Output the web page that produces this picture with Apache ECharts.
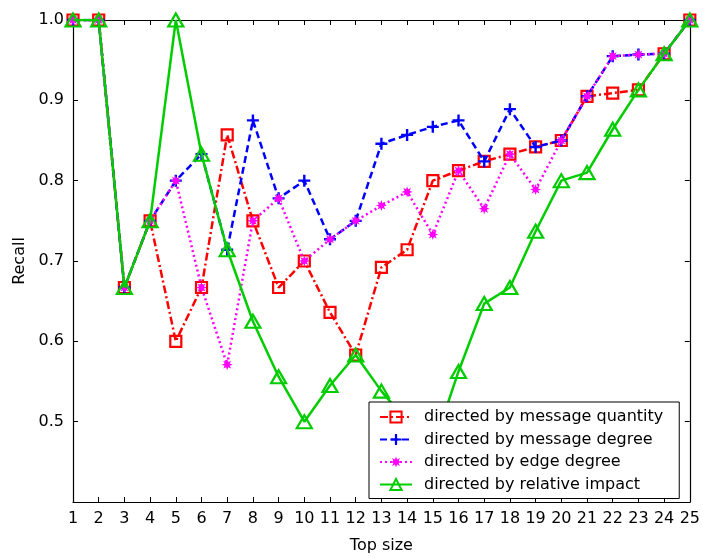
<!DOCTYPE html>
<html>
<head>
<meta charset="utf-8">
<script src="https://cdn.jsdelivr.net/npm/echarts@6/dist/echarts.min.js"></script>
<style>
html,body{margin:0;padding:0;background:#fff;}
#chart{width:703px;height:559px;}
</style>
</head>
<body>
<div id="chart"></div>
<script>
var topSizes = [1,2,3,4,5,6,7,8,9,10,11,12,13,14,15,16,17,18,19,20,21,22,23,24,25];
var msgQuantity = [1.0,1.0,0.667,0.75,0.6,0.667,0.857,0.75,0.667,0.7,0.636,0.583,0.692,0.714,0.8,0.8125,0.824,0.833,0.842,0.85,0.905,0.909,0.913,0.958,1.0];
var msgDegree = [1.0,1.0,0.667,0.75,0.8,0.833,0.714,0.875,0.778,0.8,0.727,0.75,0.846,0.857,0.867,0.875,0.824,0.889,0.842,0.85,0.905,0.955,0.957,0.958,1.0];
var edgeDegree = [1.0,1.0,0.667,0.75,0.8,0.667,0.571,0.75,0.778,0.7,0.727,0.75,0.769,0.786,0.733,0.8125,0.765,0.833,0.789,0.85,0.905,0.955,0.957,0.958,1.0];
var relImpact = [1.0,1.0,0.667,0.75,1.0,0.833,0.714,0.625,0.556,0.5,0.545,0.583,0.538,0.5,0.467,0.5625,0.647,0.667,0.737,0.8,0.81,0.864,0.913,0.958,1.0];
var seriesNames = ['directed by message quantity','directed by message degree','directed by edge degree','directed by relative impact'];

function pairs(vals){ return topSizes.map(function(x,i){ return [x, vals[i]]; }); }

var FONT = 'DejaVu Sans';
var plusPath = 'path://M4,0H6V4H10V6H6V10H4V6H0V4H4Z';
var starPath = 'path://M20,10 L14.62,11.91 L17.07,17.07 L11.91,14.62 L10,20 L8.09,14.62 L2.93,17.07 L5.38,11.91 L0,10 L5.38,8.09 L2.93,2.93 L8.09,5.38 L10,0 L11.91,5.38 L17.07,2.93 L14.62,8.09 Z';

var chart = echarts.init(document.getElementById('chart'), null, {renderer:'canvas'});
var axisCommon = {
  axisLine:{show:true, onZero:false, lineStyle:{color:'#000', width:1.2}},
  axisTick:{show:true, inside:true, length:5, lineStyle:{color:'#000'}},
  splitLine:{show:false}
};
var option = {
  backgroundColor:'#fff',
  animation:false,
  grid:{left:73, right:12, top:20, bottom:52, containLabel:false},
  xAxis:[
    Object.assign({type:'value', min:1, max:25, interval:1, position:'bottom',
      name:'Top size', nameLocation:'middle', nameGap:36,
      nameTextStyle:{fontFamily:FONT, fontSize:16, color:'#000'},
      axisLabel:{fontFamily:FONT, fontSize:16, color:'#000', margin:9}}, axisCommon),
    Object.assign({type:'value', min:1, max:25, interval:1, position:'top',
      axisLabel:{show:false}}, axisCommon)
  ],
  yAxis:[
    Object.assign({type:'value', min:0.4, max:1.0, interval:0.1, position:'left',
      name:'Recall', nameLocation:'middle', nameGap:42,
      nameTextStyle:{fontFamily:FONT, fontSize:16, color:'#000'},
      axisLabel:{fontFamily:FONT, fontSize:16, color:'#000', margin:9, showMinLabel:false,
        formatter:function(v){ return v.toFixed(1); }}}, axisCommon),
    Object.assign({type:'value', min:0.4, max:1.0, interval:0.1, position:'right',
      axisLabel:{show:false}}, axisCommon)
  ],
  legend:{
    orient:'vertical', left:369, top:402, z:50, zlevel:1,
    padding:[7,16,6,10], itemGap:6.5, itemWidth:32, itemHeight:14,
    borderColor:'#000', borderWidth:1, backgroundColor:'#fff',
    textStyle:{fontFamily:FONT, fontSize:16, color:'#000', padding:[0,0,0,7]},
    data:seriesNames
  },
  series:[
    {name:seriesNames[0], type:'line', data:pairs(msgQuantity), symbol:'rect', symbolSize:11,
      lineStyle:{color:'#ff0000', width:2.5, type:[8,3,2,3]},
      itemStyle:{color:'rgba(255,255,255,0)', borderColor:'#ff0000', borderWidth:2.2}, z:2},
    {name:seriesNames[1], type:'line', data:pairs(msgDegree), symbol:plusPath, symbolSize:12,
      lineStyle:{color:'#0000ff', width:2.5, type:[7,4]},
      itemStyle:{color:'#0000ff', borderWidth:0}, z:3},
    {name:seriesNames[2], type:'line', data:pairs(edgeDegree), symbol:starPath, symbolSize:11,
      lineStyle:{color:'#ff00ff', width:2.5, type:[2,3]},
      itemStyle:{color:'#ff00ff', borderWidth:0}, z:4},
    {name:seriesNames[3], type:'line', data:pairs(relImpact), symbol:'triangle', symbolSize:[15,13],
      lineStyle:{color:'#00cc00', width:2.5, type:'solid'},
      itemStyle:{color:'rgba(255,255,255,0)', borderColor:'#00cc00', borderWidth:2.2}, z:5}
  ]
};
chart.setOption(option);
</script>
</body>
</html>
